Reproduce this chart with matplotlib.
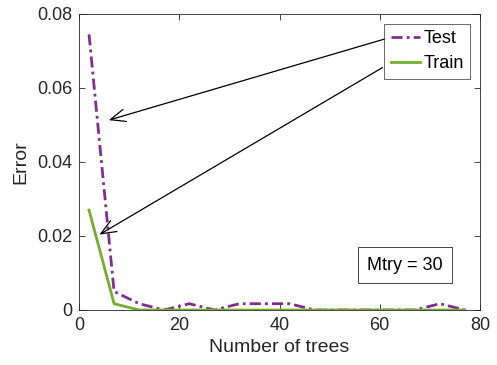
import matplotlib
matplotlib.use("Agg")
import matplotlib.pyplot as plt

trees = [2, 7, 12, 17, 22, 27, 32, 37, 42, 47, 52, 57, 62, 67, 72, 77]
test_err = [0.0745, 0.005, 0.0017, 0.0, 0.0017, 0.0, 0.0017, 0.0017, 0.0017, 0.0, 0.0, 0.0, 0.0, 0.0, 0.0017, 0.0]
train_err = [0.027, 0.0017, 0.0, 0.0, 0.0, 0.0, 0.0, 0.0, 0.0, 0.0, 0.0, 0.0, 0.0, 0.0, 0.0, 0.0]
xticks = [0, 20, 40, 60, 80]
yticks = [0, 0.02, 0.04, 0.06, 0.08]
ytick_labels = ["0", "0.02", "0.04", "0.06", "0.08"]

plt.rcParams['font.family'] = ['Liberation Sans', 'DejaVu Sans']

fig = plt.figure(figsize=(4.97, 3.65), dpi=100)
ax = fig.add_axes([79/497, (365-310)/365, 401/497, 296/365])

ax.plot(trees, test_err, color='#7E2F8E', linestyle=(0, (4, 1.5, 1, 1.5)), linewidth=2, label='Test')
ax.plot(trees, train_err, color='#77AC30', linestyle='-', linewidth=2, label='Train')

ax.set_xlim(0, 80)
ax.set_ylim(0, 0.08)
ax.set_xticks(xticks)
ax.set_yticks(yticks)
ax.set_yticklabels(ytick_labels)
ax.tick_params(direction='in', top=True, right=True, labelsize=13, colors='#262626', length=4, width=0.6, pad=5)
for s in ax.spines.values():
    s.set_color('#262626')
    s.set_linewidth(0.6)
ax.set_xlabel('Number of trees', fontsize=14, color='#262626', labelpad=4)
ax.set_ylabel('Error', fontsize=14, color='#262626', labelpad=5)

leg = ax.legend(loc='upper right', bbox_to_anchor=(391/401, 1 - 10/296), fontsize=13,
                frameon=True, fancybox=False, edgecolor='#262626', handlelength=1.6,
                handletextpad=0.2, borderpad=0.35, labelspacing=0.45, borderaxespad=0)
leg.get_frame().set_linewidth(0.6)

ax.annotate('', xy=(5.4, 0.0511), xycoords='data', xytext=(0.771, 0.919), textcoords='axes fraction',
            arrowprops=dict(arrowstyle='->,head_length=0.6,head_width=0.25', color='black', lw=0.9, mutation_scale=18))
ax.annotate('', xy=(3.6, 0.020), xycoords='data', xytext=(0.763, 0.824), textcoords='axes fraction',
            arrowprops=dict(arrowstyle='->,head_length=0.6,head_width=0.25', color='black', lw=0.9, mutation_scale=18))

ax.text(0.813, 0.152, 'Mtry = 30', transform=ax.transAxes, ha='center', va='center', fontsize=13,
        bbox=dict(boxstyle='square,pad=0.5', facecolor='white', edgecolor='#262626', linewidth=0.6))

fig.savefig('out.png', dpi=100)
